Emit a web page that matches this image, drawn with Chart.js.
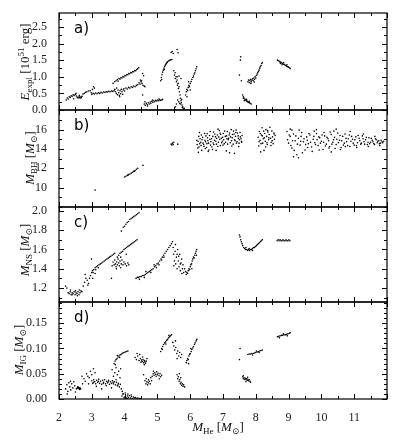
<!DOCTYPE html>
<html lang="en">
  <head>
    <meta charset="UTF-8" />
    <script src="https://cdn.jsdelivr.net/npm/chart.js@4.4.1/dist/chart.umd.min.js"></script>
    <title>Explosion properties vs helium core mass</title>
    <style>
      body { margin: 0; background: #fff; }
      .wrap { position: relative; width: 399px; height: 444px; }
      .wrap canvas { position: absolute; left: 0; top: 0; }
    </style>
  </head>
  <body>
    <div class="wrap">
      <canvas id="pa" width="399" height="444"></canvas>
      <canvas id="pb" width="399" height="444"></canvas>
      <canvas id="pc" width="399" height="444"></canvas>
      <canvas id="pd" width="399" height="444"></canvas>
    </div>
    <script>
      // tick labels
      const xTicks = [2, 3, 4, 5, 6, 7, 8, 9, 10, 11]
      const explTicks = [0, 0.5, 1.0, 1.5, 2.0, 2.5]
      const bhTicks = [10, 12, 14, 16]
      const nsTicks = [1.2, 1.4, 1.6, 1.8, 2.0]
      const igTicks = [0, 0.05, 0.1, 0.15]

      // a) explosion energy [1e51 erg] vs M_He
      const eExpl = [
        [2.22,0.30],[2.25,0.36],[2.28,0.33],[2.31,0.40],[2.34,0.38],[2.37,0.43],[2.40,0.41],[2.43,0.46],[2.46,0.44],[2.50,0.47],
        [2.53,0.42],[2.56,0.38],[2.58,0.36],[2.60,0.39],[2.62,0.37],[2.64,0.40],[2.66,0.36],[2.68,0.38],[2.70,0.41],[2.73,0.48],
        [2.77,0.50],[2.81,0.53],[2.85,0.55],[2.90,0.57],[2.95,0.58],[2.45,0.34],[2.52,0.50],[2.62,0.44],
        [3.02,0.62],[3.05,0.70],[3.08,0.66],[2.98,0.52],
        [3.00,0.47],[3.04,0.50],[3.08,0.48],[3.12,0.51],[3.16,0.49],[3.20,0.52],[3.24,0.50],[3.28,0.53],[3.32,0.51],[3.36,0.54],
        [3.40,0.53],[3.44,0.55],[3.48,0.54],[3.52,0.56],[3.56,0.55],[3.60,0.57],[3.64,0.56],[3.68,0.58],[3.72,0.55],[3.75,0.50],
        [3.78,0.46],[3.80,0.60],[3.82,0.52],[3.84,0.44],[3.86,0.58],[3.88,0.49],[3.90,0.62],[3.92,0.55],[3.94,0.47],[3.96,0.60],
        [3.98,0.64],[4.00,0.57],[4.04,0.66],[4.08,0.63],[4.12,0.68],[4.16,0.66],[4.20,0.70],[4.24,0.68],[4.28,0.72],[4.32,0.70],
        [4.36,0.74],[4.40,0.76],[4.44,0.82],[4.47,0.78],[4.50,0.85],[4.53,0.80],[4.56,0.74],[4.60,0.72],[4.62,0.70],[4.48,0.90],
        [4.52,0.88],[3.70,0.62],[3.85,0.40],[3.76,0.66],
        [3.70,0.85],[3.74,0.88],[3.78,0.92],[3.80,0.87],[3.83,0.95],[3.86,0.93],[3.89,0.98],[3.92,0.96],[3.95,1.01],[3.98,0.99],
        [4.01,1.04],[4.04,1.03],[4.07,1.07],[4.10,1.06],[4.13,1.10],[4.16,1.09],[4.19,1.13],[4.22,1.12],[4.25,1.16],[4.28,1.15],
        [4.31,1.19],[4.34,1.18],[4.37,1.22],[4.40,1.24],[4.43,1.27],[4.55,1.10],[4.58,1.03],[3.65,0.80],
        [4.60,0.18],[4.63,0.14],[4.66,0.20],[4.69,0.16],[4.72,0.22],[4.75,0.18],[4.78,0.24],[4.80,0.20],[4.83,0.26],[4.86,0.23],
        [4.89,0.28],[4.92,0.25],[4.95,0.29],[4.98,0.27],[5.01,0.30],[5.04,0.28],[5.07,0.31],[5.10,0.29],[5.13,0.30],[5.16,0.32],
        [4.70,0.12],[4.85,0.30],[5.05,0.33],[4.62,0.25],[4.55,0.45],
        [5.10,0.88],[5.12,0.98],[5.14,1.06],[5.16,1.14],[5.18,1.20],[5.20,1.26],[5.22,1.31],[5.24,1.35],[5.26,1.38],[5.28,1.41],
        [5.30,1.44],[5.32,1.46],[5.35,1.48],[5.38,1.50],[5.41,1.51],[5.44,1.52],[5.13,0.92],[5.21,1.22],[5.42,1.73],[5.45,1.76],
        [5.48,1.70],[5.60,1.82],[5.63,1.72],
        [5.50,1.18],[5.52,1.05],[5.54,1.12],[5.55,0.95],[5.57,1.00],[5.58,0.85],[5.60,0.90],[5.61,0.75],[5.63,0.80],[5.64,0.65],
        [5.66,0.70],[5.67,0.55],[5.69,0.45],[5.70,0.35],[5.72,0.28],[5.73,0.22],[5.75,0.15],[5.77,0.10],[5.78,0.06],[5.80,0.03],
        [5.62,0.30],[5.65,0.25],[5.68,0.20],[5.70,0.18],[5.74,0.32],[5.60,1.00],[5.66,1.02],[5.72,0.95],[5.76,0.08],[5.82,0.05],
        [5.58,0.18],[5.55,0.10],
        [5.86,0.45],[5.88,0.55],[5.90,0.62],[5.92,0.58],[5.94,0.68],[5.96,0.74],[5.98,0.70],[6.00,0.80],[6.03,0.86],[6.05,0.92],
        [6.08,0.98],[6.10,1.02],[6.12,1.08],[6.14,1.12],[6.16,1.18],[6.18,1.24],[6.20,1.30],[5.90,0.40],[5.95,0.85],[6.00,0.60],
        [7.54,1.60],[7.53,1.50],[7.50,1.05],[7.56,0.88],
        [7.60,0.45],[7.62,0.40],[7.64,0.36],[7.66,0.33],[7.68,0.31],[7.70,0.29],[7.72,0.27],[7.74,0.26],[7.76,0.24],[7.78,0.23],
        [7.80,0.22],[7.83,0.20],[7.86,0.18],[7.65,0.28],[7.72,0.32],[7.80,0.26],[7.62,0.35],
        [7.76,0.85],[7.78,0.90],[7.80,0.82],[7.82,0.88],[7.84,0.92],[7.86,0.85],[7.88,0.90],[7.90,0.94],[7.92,0.88],[7.94,0.96],
        [7.96,0.92],[7.98,1.00],[8.00,0.96],[8.02,1.04],[8.04,1.08],[8.06,1.12],[8.08,1.16],[8.10,1.20],[8.12,1.26],[8.14,1.30],
        [8.16,1.34],[8.18,1.40],[8.20,1.43],[7.85,0.80],[7.95,0.84],
        [8.66,1.50],[8.70,1.48],[8.73,1.45],[8.76,1.44],[8.79,1.42],[8.82,1.40],[8.85,1.38],[8.88,1.36],[8.91,1.34],[8.94,1.32],
        [8.97,1.30],[9.00,1.29],[9.03,1.27],[8.75,1.40],[8.85,1.43],[8.95,1.36],[8.80,1.36],[9.05,1.24]
      ]

      // b) black hole mass [Msun]
      const mBH = [
        [3.10,9.75],
        [4.00,11.10],[4.04,11.18],[4.08,11.25],[4.12,11.35],[4.16,11.42],[4.20,11.50],[4.24,11.60],[4.28,11.68],[4.32,11.78],
        [4.36,11.90],[4.40,12.00],[4.10,11.30],[4.30,11.70],[4.56,12.30],
        [5.42,14.50],[5.46,14.60],[5.48,14.45],[5.50,14.70],[5.44,14.40],[5.62,14.50],
        [6.20,14.90],[6.23,14.10],[6.26,15.30],[6.29,14.55],[6.32,14.70],[6.35,13.85],[6.38,15.20],[6.41,14.45],[6.44,15.60],[6.47,14.75],
        [6.50,14.15],[6.53,15.15],[6.56,14.60],[6.59,15.40],[6.62,14.40],[6.65,15.05],[6.68,13.95],[6.71,15.75],[6.74,14.90],[6.77,15.25],
        [6.80,14.50],[6.83,15.45],[6.86,14.70],[6.89,15.90],[6.92,14.35],[6.95,15.10],[6.98,14.80],[7.01,15.60],[7.04,14.55],[7.07,15.30],
        [7.10,13.80],[7.13,15.80],[7.16,14.95],[7.19,15.45],[7.22,14.65],[7.25,16.00],[7.28,15.15],[7.31,14.50],[7.34,15.55],[7.37,14.85],
        [7.40,15.95],[7.43,14.75],[7.46,15.35],[7.49,14.60],[7.52,15.70],[7.55,15.05],[7.58,15.40],
        [6.21,14.45],[6.24,14.80],[6.27,14.20],[6.30,15.05],[6.33,14.35],[6.36,14.95],[6.39,14.60],[6.42,14.25],[6.45,14.90],[6.48,15.35],
        [6.51,14.55],[6.54,14.85],[6.57,13.90],[6.60,15.00],[6.63,14.75],[6.66,14.20],[6.69,15.30],[6.72,14.45],[6.75,15.55],[6.78,14.80],
        [6.81,15.10],[6.84,14.25],[6.87,15.25],[6.90,15.00],[6.93,15.50],[6.96,14.65],[6.99,15.20],[7.02,14.95],[7.05,15.85],[7.08,14.70],
        [7.11,15.35],[7.14,14.50],[7.17,15.10],[7.20,15.65],[7.23,15.25],[7.26,14.85],[7.29,15.50],[7.32,15.85],[7.35,14.95],[7.38,15.30],
        [7.41,14.60],[7.44,15.65],[7.47,15.10],[7.50,14.95],[7.53,15.25],[7.56,14.80],
        [6.25,13.65],[6.55,13.75],[7.20,13.60],[7.35,13.55],
        [6.34,15.45],[6.46,14.05],[6.61,15.80],[6.70,14.62],[6.79,13.85],[6.91,15.62],[7.00,14.40],[7.12,15.05],[7.27,14.30],[7.39,15.70],
        [7.48,14.25],[7.57,14.70],[6.28,15.70],[6.52,15.58],[6.85,16.05],
        [8.07,15.20],[8.09,14.30],[8.11,15.80],[8.13,14.90],[8.15,13.70],[8.17,15.45],[8.19,16.20],[8.21,14.60],[8.23,15.05],[8.25,13.85],
        [8.27,15.60],[8.29,14.80],[8.31,16.00],[8.33,15.30],[8.35,14.45],[8.37,15.75],[8.39,14.95],[8.41,15.50],[8.43,16.25],[8.45,15.10],
        [8.47,14.70],[8.49,15.85],[8.51,15.25],[8.53,14.55],[8.55,15.65],[8.57,15.00],[8.59,15.40],[8.10,14.75],[8.20,15.35],[8.30,14.20],
        [8.40,15.15],[8.50,14.85],[8.16,14.55],[8.26,15.15],[8.36,15.90],[8.46,14.35],[8.56,15.55],[8.14,15.60],[8.24,15.85],[8.34,14.65],
        [8.95,15.80],[9.00,14.60],[9.05,15.30],[9.10,14.10],[9.15,15.55],[9.20,14.85],[9.25,13.40],[9.30,15.10],[9.35,14.40],[9.40,15.70],
        [9.45,14.75],[9.50,13.90],[9.55,15.25],[9.60,14.55],[9.65,15.45],[9.70,14.20],[9.75,15.00],[9.80,14.65],[9.85,15.60],[9.90,14.35],
        [9.95,15.15],[10.00,14.80],[10.05,13.95],[10.10,15.35],[10.15,14.50],[10.20,15.05],[10.25,14.25],[10.30,15.50],[10.35,14.70],[10.40,15.20],
        [10.45,14.45],[10.50,15.65],[10.55,14.90],[10.60,14.15],[10.65,15.30],[10.70,14.60],[10.75,15.10],[10.80,14.35],[10.85,15.45],[10.90,14.80],
        [10.95,15.00],[11.00,14.40],[11.05,15.25],[11.10,14.65],[11.15,15.10],[11.20,14.50],[11.25,15.35],[11.30,14.75],[11.35,14.95],[11.40,14.45],
        [11.45,15.15],[11.50,14.70],[11.55,14.90],[11.60,14.55],[11.65,15.05],[11.70,14.65],[11.75,14.85],[11.80,14.60],[11.85,14.75],
        [8.97,14.95],[9.02,15.45],[9.07,14.35],[9.12,14.85],[9.17,13.85],[9.22,15.35],[9.27,14.50],[9.32,15.95],[9.37,14.80],[9.42,13.60],
        [9.47,15.05],[9.52,14.45],[9.57,14.90],[9.62,15.60],[9.67,14.70],[9.72,13.75],[9.77,15.30],[9.82,14.45],[9.87,14.95],[9.92,15.25],
        [9.97,14.60],[10.02,15.45],[10.07,14.70],[10.12,14.30],[10.17,15.20],[10.22,14.85],[10.27,15.75],[10.32,14.50],[10.37,14.95],[10.42,14.05],
        [10.47,15.00],[10.52,14.65],[10.57,15.40],[10.62,14.85],[10.67,14.40],[10.72,15.55],[10.77,14.75],[10.82,15.05],[10.87,14.25],[10.92,15.30],
        [10.97,14.60],[11.02,14.95],[11.07,14.35],[11.12,15.40],[11.17,14.85],[11.22,14.60],[11.27,15.05],[11.32,14.50],[11.37,15.20],[11.42,14.70],
        [11.47,14.55],[11.52,15.10],[11.57,14.75],[11.62,14.45],[11.67,14.95],[11.72,14.80],[11.77,14.55],[11.82,14.90],[11.87,14.65],
        [9.05,16.05],[9.15,13.20],[9.30,13.10],[10.45,16.05],[9.85,16.00],[10.30,13.70],
        [9.10,15.95],[9.38,15.30],[9.58,14.15],[9.78,15.85],[9.93,13.90],[10.08,15.70],[10.23,14.10],[10.38,15.85],[10.58,13.95],[10.73,14.25],
        [10.88,15.80],[11.08,14.15],[11.28,15.55],[11.43,14.25],[11.63,15.30],[11.78,14.35],[11.90,14.80]
      ]

      // c) neutron star mass [Msun]
      const mNS = [
        [2.20,1.22],[2.24,1.20],[2.28,1.15],[2.31,1.14],[2.34,1.16],[2.37,1.13],[2.40,1.15],[2.43,1.14],[2.46,1.16],[2.49,1.13],
        [2.52,1.15],[2.55,1.14],[2.58,1.16],[2.61,1.13],[2.64,1.15],[2.67,1.17],[2.70,1.16],[2.35,1.18],[2.50,1.17],[2.62,1.18],
        [2.40,1.13],[2.56,1.12],
        [2.74,1.22],[2.78,1.26],[2.80,1.34],[2.82,1.30],[2.86,1.28],[2.90,1.25],[2.93,1.30],[2.96,1.33],[3.00,1.36],[3.03,1.30],
        [2.88,1.23],[3.10,1.35],[2.99,1.50],[3.60,1.30],
        [3.02,1.38],[3.06,1.39],[3.10,1.41],[3.14,1.42],[3.18,1.43],[3.22,1.44],[3.26,1.45],[3.30,1.46],[3.34,1.47],[3.38,1.48],
        [3.42,1.49],[3.46,1.50],[3.50,1.51],[3.54,1.52],[3.58,1.53],[3.62,1.54],[3.66,1.55],[3.70,1.56],[3.04,1.36],[3.12,1.39],
        [3.20,1.41],
        [3.62,1.43],[3.65,1.47],[3.68,1.44],[3.70,1.49],[3.72,1.45],[3.74,1.42],[3.76,1.47],[3.78,1.44],[3.80,1.50],[3.82,1.46],
        [3.84,1.43],[3.86,1.48],[3.88,1.52],[3.90,1.45],[3.92,1.49],[3.95,1.44],[3.98,1.47],[4.02,1.45],[4.06,1.43],[4.10,1.46],
        [4.13,1.44],[3.78,1.52],[3.82,1.54],[3.86,1.56],[3.90,1.57],[3.94,1.58],[3.98,1.60],[4.02,1.61],[4.06,1.62],[4.10,1.63],
        [4.14,1.64],[4.18,1.65],[4.22,1.66],[4.26,1.67],[4.30,1.68],[4.34,1.69],[4.38,1.70],[3.75,1.40],[3.88,1.41],[4.05,1.55],
        [3.90,1.79],[3.96,1.83],[4.00,1.84],[4.04,1.86],[4.08,1.88],[4.12,1.89],[4.16,1.91],[4.20,1.92],[4.24,1.93],[4.28,1.94],
        [4.32,1.95],[4.36,1.96],[4.40,1.97],[4.44,1.98],
        [4.35,1.30],[4.39,1.31],[4.43,1.31],[4.47,1.32],[4.51,1.32],[4.55,1.33],[4.59,1.33],[4.63,1.34],[4.67,1.35],[4.71,1.36],
        [4.75,1.37],[4.79,1.38],[4.83,1.39],[4.87,1.40],[4.91,1.42],[4.95,1.43],[4.99,1.45],[5.03,1.46],[5.07,1.48],[5.11,1.50],
        [5.15,1.52],[5.19,1.54],[5.23,1.56],[5.27,1.58],[5.31,1.60],[5.35,1.62],[5.39,1.64],[5.43,1.66],[5.46,1.68],[4.45,1.29],
        [4.60,1.31],[4.80,1.36],[4.97,1.41],[5.13,1.49],[4.65,1.37],[4.90,1.44],[5.05,1.44],[5.20,1.52],
        [5.48,1.62],[5.50,1.55],[5.52,1.48],[5.54,1.58],[5.56,1.45],[5.58,1.52],[5.60,1.40],[5.62,1.60],[5.64,1.48],[5.66,1.42],
        [5.68,1.55],[5.70,1.38],[5.72,1.46],[5.74,1.50],[5.76,1.40],[5.78,1.44],[5.80,1.36],[5.83,1.40],[5.86,1.37],[5.55,1.65],
        [5.60,1.55],[5.65,1.53],[5.70,1.45],[5.75,1.35],[5.50,1.43],
        [5.88,1.34],[5.90,1.36],[5.92,1.35],[5.94,1.38],[5.96,1.40],[5.98,1.39],[6.00,1.42],[6.02,1.44],[6.04,1.45],[6.06,1.48],
        [6.08,1.50],[6.10,1.52],[6.12,1.51],[6.14,1.54],[6.16,1.56],[6.18,1.58],[6.20,1.60],[6.19,1.54],[6.05,1.40],
        [7.52,1.73],[7.54,1.70],[7.56,1.68],[7.58,1.66],[7.60,1.64],[7.63,1.62],[7.66,1.61],[7.69,1.60],[7.72,1.60],[7.75,1.59],
        [7.78,1.60],[7.81,1.59],[7.84,1.60],[7.87,1.60],[7.90,1.61],[7.93,1.62],[7.96,1.62],[7.99,1.63],[8.02,1.64],[8.05,1.65],
        [8.08,1.66],[8.11,1.67],[8.14,1.68],[8.17,1.69],[8.20,1.70],[7.70,1.62],[7.80,1.61],[7.90,1.59],[7.50,1.75],
        [8.65,1.69],[8.68,1.70],[8.71,1.69],[8.74,1.70],[8.77,1.69],[8.80,1.69],[8.83,1.70],[8.86,1.69],[8.89,1.69],[8.92,1.70],
        [8.95,1.69],[8.98,1.69],[9.01,1.70],[9.04,1.69]
      ]

      // d) ignition mass [Msun]
      const mIG = [
        [2.20,0.020],[2.24,0.028],[2.27,0.015],[2.30,0.032],[2.33,0.024],[2.36,0.018],[2.39,0.030],[2.42,0.022],[2.45,0.034],[2.48,0.026],
        [2.50,0.014],[2.53,0.020],[2.56,0.022],[2.58,0.021],[2.60,0.023],[2.62,0.021],[2.64,0.022],[2.66,0.020],[2.57,0.024],[2.63,0.019],
        [2.35,0.035],[2.25,0.010],
        [2.72,0.030],[2.76,0.040],[2.80,0.035],[2.84,0.050],[2.88,0.045],[2.92,0.042],[2.96,0.055],[3.00,0.048],[3.05,0.060],[2.70,0.045],
        [2.90,0.030],[3.10,0.052],
        [3.00,0.036],[3.03,0.031],[3.06,0.038],[3.09,0.034],[3.12,0.030],[3.15,0.037],[3.18,0.033],[3.21,0.039],[3.24,0.031],[3.27,0.035],
        [3.30,0.029],[3.33,0.037],[3.36,0.033],[3.39,0.038],[3.42,0.030],[3.45,0.035],[3.48,0.032],[3.51,0.037],[3.54,0.029],[3.57,0.034],
        [3.60,0.031],[3.63,0.036],[3.66,0.030],[3.69,0.034],[3.72,0.028],[3.75,0.033],[3.78,0.026],[3.81,0.031],[3.84,0.024],[3.87,0.029],
        [3.90,0.020],[3.93,0.015],[3.05,0.033],[3.20,0.035],[3.35,0.031],[3.50,0.034],[3.65,0.033],[3.80,0.028],[3.14,0.025],[3.44,0.026],
        [3.74,0.038],[3.30,0.020],[3.60,0.022],[3.95,0.010],
        [3.68,0.070],[3.71,0.075],[3.74,0.078],[3.77,0.080],[3.80,0.083],[3.83,0.085],[3.86,0.087],[3.89,0.088],[3.92,0.090],[3.95,0.091],
        [3.98,0.092],[4.02,0.093],[4.06,0.094],[4.10,0.095],[3.72,0.068],[3.78,0.086],[3.85,0.082],
        [3.62,0.058],[3.66,0.045],[3.70,0.052],[3.74,0.062],[3.78,0.048],[3.82,0.055],[3.86,0.042],[3.88,0.060],
        [3.92,0.006],[3.96,0.010],[4.00,0.004],[4.03,0.008],[4.06,0.002],[4.09,0.006],[4.12,0.003],[4.15,0.007],[4.18,0.002],[4.21,0.005],
        [4.24,0.001],[4.27,0.004],[4.30,0.002],[4.33,0.003],[4.36,0.001],[4.40,0.002],[4.44,0.001],[4.48,0.001],[4.02,0.012],[4.10,0.010],
        [4.20,0.008],[3.98,0.002],[4.08,0.001],
        [4.32,0.082],[4.36,0.078],[4.40,0.085],[4.44,0.076],[4.48,0.080],[4.50,0.073],[4.52,0.077],[4.54,0.074],[4.56,0.078],[4.58,0.072],
        [4.60,0.076],[4.62,0.074],[4.64,0.071],[4.66,0.075],[4.46,0.088],[4.55,0.083],[4.38,0.090],[4.60,0.068],[4.68,0.080],
        [4.62,0.036],[4.65,0.030],[4.68,0.034],[4.70,0.028],[4.72,0.032],[4.75,0.035],[4.78,0.030],[4.80,0.042],[4.84,0.045],[4.87,0.050],
        [4.90,0.047],[4.92,0.052],[4.95,0.049],[4.98,0.054],[5.00,0.048],[5.02,0.051],[5.05,0.046],[5.08,0.050],[5.10,0.044],[5.13,0.047],
        [4.88,0.055],[4.96,0.045],[4.66,0.040],[4.73,0.038],[4.58,0.048],[4.82,0.036],[5.06,0.040],
        [5.10,0.094],[5.13,0.100],[5.16,0.104],[5.19,0.108],[5.22,0.111],[5.25,0.113],[5.28,0.116],[5.31,0.118],[5.34,0.121],[5.37,0.123],
        [5.40,0.125],[5.43,0.127],[5.15,0.098],[5.26,0.109],[5.35,0.126],
        [5.47,0.112],[5.50,0.105],[5.53,0.097],[5.56,0.102],[5.59,0.090],[5.62,0.095],[5.65,0.085],[5.68,0.092],[5.71,0.082],[5.74,0.088],
        [5.55,0.115],[5.60,0.080],
        [5.60,0.048],[5.62,0.040],[5.64,0.044],[5.66,0.035],[5.68,0.038],[5.70,0.030],[5.72,0.033],[5.74,0.027],[5.76,0.030],[5.78,0.025],
        [5.80,0.028],[5.83,0.024],[5.67,0.050],[5.71,0.042],
        [5.88,0.072],[5.90,0.076],[5.92,0.080],[5.94,0.078],[5.96,0.085],[5.98,0.088],[6.00,0.090],[6.03,0.094],[6.05,0.098],[6.08,0.101],
        [6.10,0.104],[6.13,0.108],[6.15,0.111],[6.18,0.115],[6.20,0.118],[5.95,0.070],[6.02,0.100],
        [7.52,0.100],[7.50,0.078],
        [7.60,0.044],[7.62,0.040],[7.64,0.042],[7.66,0.039],[7.68,0.041],[7.70,0.038],[7.72,0.040],[7.74,0.037],[7.76,0.039],[7.78,0.036],
        [7.80,0.038],[7.82,0.035],[7.62,0.046],[7.70,0.034],[7.84,0.033],[7.75,0.043],
        [7.76,0.088],[7.80,0.089],[7.84,0.089],[7.88,0.090],[7.92,0.090],[7.96,0.091],[8.00,0.092],[8.04,0.093],[8.08,0.094],[8.12,0.095],
        [8.16,0.096],[8.20,0.097],[7.90,0.087],[8.02,0.095],[8.10,0.092],
        [8.66,0.123],[8.70,0.124],[8.74,0.125],[8.78,0.126],[8.82,0.126],[8.86,0.127],[8.90,0.127],[8.94,0.128],[8.98,0.129],[9.02,0.130],
        [8.72,0.121],[8.84,0.129],[8.96,0.125],[9.05,0.131]
      ]

      const SERIF = '"Liberation Serif", "DejaVu Serif", serif'

      // text with italics / sub / superscripts, optionally rotated
      const drawRich = (ctx, parts, x, y, size, rotate) => {
        ctx.save()
        ctx.translate(x, y)
        if (rotate) ctx.rotate(-Math.PI / 2)
        const fontFor = (p) =>
          (p.it ? 'italic ' : '') + Math.round(p.sub || p.sup ? size * 0.72 : size) + 'px ' + SERIF
        let w = 0
        parts.forEach((p) => {
          ctx.font = fontFor(p)
          w += ctx.measureText(p.t).width
        })
        let cx = -w / 2
        ctx.textBaseline = 'middle'
        ctx.fillStyle = '#111'
        parts.forEach((p) => {
          ctx.font = fontFor(p)
          const dy = p.sub ? size * 0.3 : p.sup ? -size * 0.35 : 0
          ctx.fillText(p.t, cx, dy)
          cx += ctx.measureText(p.t).width
        })
        ctx.restore()
      }

      const msun = [{ t: ' [' }, { t: 'M', it: 1 }, { t: '⊙', sub: 1 }, { t: ']' }]

      const panels = [
        {
          id: 'pa', letter: 'a)', data: eExpl, ticks: explTicks, min: 0, max: 2.92,
          minor: 0.25, digits: 1, top: 13, bottom: 110, tx: 26, ty: 62,
          title: [{ t: 'E', it: 1 }, { t: 'expl', sub: 1 }, { t: ' [10' }, { t: '51', sup: 1 }, { t: ' erg]' }],
        },
        {
          id: 'pb', letter: 'b)', data: mBH, ticks: bhTicks, min: 8, max: 18.03,
          minor: 1, digits: 0, top: 110, bottom: 207, tx: 31, ty: 158,
          title: [{ t: 'M', it: 1 }, { t: 'BH', sub: 1 }].concat(msun),
        },
        {
          id: 'pc', letter: 'c)', data: mNS, ticks: nsTicks, min: 1.055, max: 2.04,
          minor: 0.1, digits: 1, top: 207, bottom: 302, tx: 26, ty: 250,
          title: [{ t: 'M', it: 1 }, { t: 'NS', sub: 1 }].concat(msun),
        },
        {
          id: 'pd', letter: 'd)', data: mIG, ticks: igTicks, min: 0, max: 0.192,
          minor: 0.01, digits: 2, top: 302, bottom: 399, tx: 20, ty: 350, last: true,
          title: [{ t: 'M', it: 1 }, { t: 'IG', sub: 1 }].concat(msun),
        },
      ]

      const framePlugin = {
        id: 'frame',
        afterDatasetsDraw(chart, args, opts) {
          const { ctx, chartArea: ca, scales } = chart
          const x = scales.x
          const y = scales.y
          const p = opts.panel
          ctx.save()
          ctx.strokeStyle = '#000'
          ctx.lineWidth = 1
          const seg = (x1, y1, x2, y2) => {
            ctx.beginPath()
            ctx.moveTo(x1, y1)
            ctx.lineTo(x2, y2)
            ctx.stroke()
          }
          // x ticks every 0.5, inward on top and bottom
          for (let i = 0; i <= 20; i++) {
            const v = 2 + i * 0.5
            const px = Math.round(x.getPixelForValue(v)) + 0.5
            const len = i % 2 === 0 ? 5 : 3
            seg(px, ca.top, px, ca.top + len)
            seg(px, ca.bottom, px, ca.bottom - len)
          }
          // y ticks, left and right
          const n = Math.floor((p.max - p.min) / p.minor + 1e-6)
          const start = Math.ceil(p.min / p.minor - 1e-6)
          for (let i = start; i <= start + n; i++) {
            const v = i * p.minor
            if (v > p.max + 1e-9) break
            const major = p.ticks.some((t) => Math.abs(t - v) < 1e-6)
            const len = major ? 5 : 3
            const py = Math.round(y.getPixelForValue(v)) + 0.5
            seg(ca.left, py, ca.left + len, py)
            seg(ca.right, py, ca.right - len, py)
          }
          ctx.lineWidth = 1.2
          ctx.strokeRect(ca.left, ca.top, ca.width, ca.height)
          // panel letter
          ctx.fillStyle = '#000'
          ctx.font = '15px "DejaVu Sans", sans-serif'
          ctx.textBaseline = 'alphabetic'
          ctx.fillText(p.letter, ca.left + 15, ca.top + 20)
          // axis titles
          drawRich(ctx, p.title, p.tx, p.ty, 13, true)
          if (p.last) {
            drawRich(ctx, [{ t: 'M', it: 1 }, { t: 'He', sub: 1 }].concat(msun), (ca.left + ca.right) / 2 - 5, 428, 13, false)
          }
          ctx.restore()
        },
      }

      panels.forEach((p) => {
        new Chart(document.getElementById(p.id), {
          type: 'scatter',
          data: {
            datasets: [
              {
                data: p.data.map(([x, y]) => ({ x, y })),
                backgroundColor: '#000',
                borderWidth: 0,
                pointRadius: 0.8,
                pointHoverRadius: 0,
              },
            ],
          },
          options: {
            responsive: false,
            animation: false,
            events: [],
            layout: {
              padding: { top: p.top, bottom: p.last ? 0 : 444 - p.bottom, left: 0, right: 12 },
            },
            plugins: {
              legend: { display: false },
              tooltip: { enabled: false },
              frame: { panel: p },
            },
            scales: {
              x: {
                type: 'linear',
                min: 2,
                max: 12,
                display: !!p.last,
                grid: { display: false },
                border: { display: false },
                afterFit: (s) => { s.height = p.last ? 45 : 0 },
                afterBuildTicks: (s) => { s.ticks = xTicks.map((v) => ({ value: v })) },
                ticks: {
                  autoSkip: false,
                  maxRotation: 0,
                  padding: 4,
                  color: '#222',
                  font: { family: SERIF, size: 12 },
                  callback: (v) => String(v),
                },
              },
              y: {
                type: 'linear',
                min: p.min,
                max: p.max,
                grid: { display: false },
                border: { display: false },
                afterFit: (s) => { s.width = 59 },
                afterBuildTicks: (s) => { s.ticks = p.ticks.map((v) => ({ value: v })) },
                ticks: {
                  autoSkip: false,
                  padding: 4,
                  color: '#222',
                  font: { family: SERIF, size: 12 },
                  callback: (v) => Number(v).toFixed(p.digits),
                },
              },
            },
          },
          plugins: [framePlugin],
        })
      })
    </script>
  </body>
</html>
